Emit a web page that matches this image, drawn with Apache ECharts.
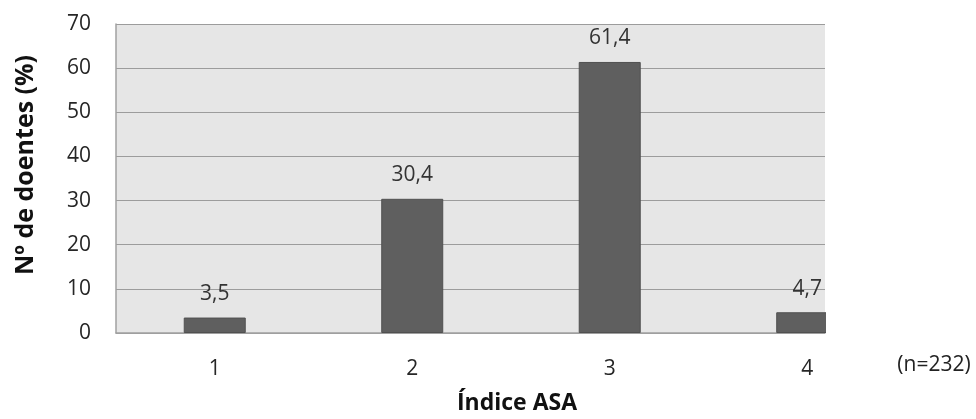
<!DOCTYPE html>
<html>
<head>
<meta charset="utf-8">
<script src="https://cdn.jsdelivr.net/npm/echarts@6/dist/echarts.min.js"></script>
<style>
  html, body { margin: 0; padding: 0; background: #fff; }
  #chart { width: 976px; height: 419px; }
</style>
</head>
<body>
<div id="chart"></div>
<script>
// ASA score categories and share of patients (%)
const categories = ['1', '2', '3', '4'];
const values = [3.5, 30.4, 61.4, 4.7];
const yTicks = [0, 10, 20, 30, 40, 50, 60, 70];

const FONT = '"Open Sans", "Noto Sans", sans-serif';
const chart = echarts.init(document.getElementById('chart'), null, { renderer: 'canvas' });

const barData = categories.map((c, i) => [Number(c), values[i]]);

chart.setOption({
  animation: false,
  grid: {
    left: 116, right: 151, top: 24, bottom: 86,
    show: true, backgroundColor: '#e6e6e6', borderWidth: 0
  },
  xAxis: {
    type: 'value',
    min: 0.5, max: 4.09,
    axisLine: { show: true, onZero: false, lineStyle: { color: '#a0a0a0', width: 1.5 } },
    axisTick: { show: false },
    splitLine: { show: false },
    axisLabel: {
      customValues: categories.map(Number),
      formatter: v => String(v),
      margin: 26, fontSize: 21, color: '#262626', fontFamily: FONT
    }
  },
  yAxis: {
    type: 'value',
    min: yTicks[0], max: yTicks[yTicks.length - 1], interval: 10,
    axisLine: { show: true, lineStyle: { color: '#a0a0a0', width: 1.5 } },
    axisTick: { show: false },
    splitLine: { show: true, lineStyle: { color: '#9c9c9c', width: 1.2 } },
    axisLabel: { margin: 25, fontSize: 21, color: '#262626', fontFamily: FONT }
  },
  series: [{
    type: 'bar',
    data: barData,
    barWidth: 62,
    z: 2,
    itemStyle: { color: '#5f5f5f', borderColor: '#505050', borderWidth: 1 },
    label: {
      show: true, position: 'top', distance: 13,
      formatter: p => String(p.value[1]).replace('.', ','),
      fontSize: 21, color: '#333', fontFamily: FONT
    }
  }],
  graphic: [
    {
      // mask the part of the last bar that runs past the plot's right edge
      type: 'rect', z: 100,
      shape: { x: 826, y: 300, width: 40, height: 36 },
      style: { fill: '#ffffff' }
    },
    {
      type: 'text', x: 26, y: 165, rotation: Math.PI / 2,
      style: {
        text: 'Nº de doentes (%)', fontSize: 25, fontWeight: 'bold',
        fontFamily: FONT, fill: '#111', align: 'center', verticalAlign: 'middle'
      }
    },
    {
      type: 'text', x: 517, y: 403,
      style: {
        text: 'Índice ASA', fontSize: 23, fontWeight: 'bold',
        fontFamily: FONT, fill: '#111', align: 'center', verticalAlign: 'middle'
      }
    },
    {
      type: 'text', x: 934, y: 365,
      style: {
        text: '(n=232)', fontSize: 21,
        fontFamily: FONT, fill: '#222', align: 'center', verticalAlign: 'middle'
      }
    }
  ]
});
</script>
</body>
</html>
